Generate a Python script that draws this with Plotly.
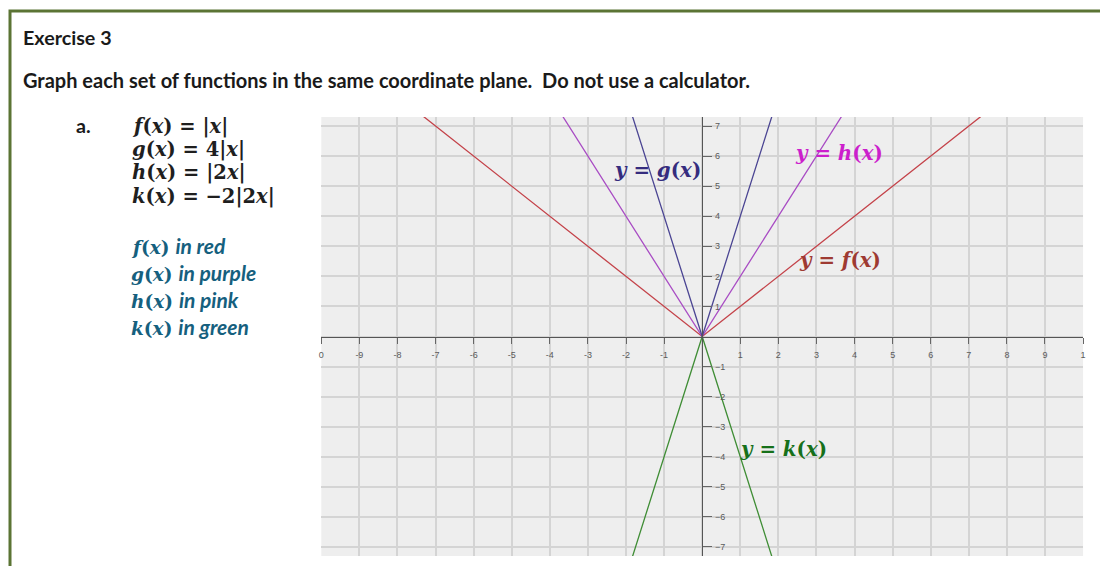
import plotly.graph_objects as go

# each function is a V with its vertex at the origin
f_x = [-10, 0, 10]
f_y = [10, 0, 10]
g_x = [-2, 0, 2]
g_y = [8, 0, 8]
h_x = [-4, 0, 4]
h_y = [8, 0, 8]
k_x = [-2, 0, 2]
k_y = [-8, 0, -8]

x_tickvals = [-10, -9, -8, -7, -6, -5, -4, -3, -2, -1, 1, 2, 3, 4, 5, 6, 7, 8, 9, 10]
x_ticktext = ["0", "-9", "-8", "-7", "-6", "-5", "-4", "-3", "-2", "-1",
              "1", "2", "3", "4", "5", "6", "7", "8", "9", "1"]
y_tickvals = [-7, -6, -5, -4, -3, -2, -1, 1, 2, 3, 4, 5, 6, 7]

functions = ["<b><i>f</i>(<i>x</i>) = |<i>x</i>|</b>",
             "<b><i>g</i>(<i>x</i>) = 4|<i>x</i>|</b>",
             "<b><i>h</i>(<i>x</i>) = |2<i>x</i>|</b>",
             "<b><i>k</i>(<i>x</i>) = \u22122|2<i>x</i>|</b>"]
colour_notes = [("f", "in red"), ("g", "in purple"), ("h", "in pink"), ("k", "in green")]

# page is drawn inside the browser body margin
W, H, OFF = 1092, 558, 8


def px(sx):
    return (sx - OFF) / W


def py(sy):
    return 1 - (sy - OFF) / H


XR = [-10, 10]
YR = [-7.3, 7.3]
xdom = [px(320), px(1086)]
ydom = [py(556), py(117)]

fig = go.Figure()
fig.add_trace(go.Scatter(x=f_x, y=f_y, mode="lines", line=dict(color="#c4434a", width=1.3)))
fig.add_trace(go.Scatter(x=h_x, y=h_y, mode="lines", line=dict(color="#a94dc4", width=1.3)))
fig.add_trace(go.Scatter(x=g_x, y=g_y, mode="lines", line=dict(color="#4b4593", width=1.3)))
fig.add_trace(go.Scatter(x=k_x, y=k_y, mode="lines", line=dict(color="#3f8d35", width=1.3)))
# carrier for the axes that cross at the origin
fig.add_trace(go.Scatter(x=[0], y=[0], mode="markers", marker=dict(opacity=0),
                         xaxis="x2", yaxis="y2", hoverinfo="skip"))

serif = "DejaVu Serif"
labels = [
    (-2.36, 5.55, "<b><i>y</i> = <i>g</i>(<i>x</i>)</b>", "#352c7e"),
    (2.38, 6.1, "<b><i>y</i> = <i>h</i>(<i>x</i>)</b>", "#cc1fcc"),
    (2.5, 2.55, "<b><i>y</i> = <i>f</i>(<i>x</i>)</b>", "#9e3a32"),
    (0.93, -3.75, "<b><i>y</i> = <i>k</i>(<i>x</i>)</b>", "#16701a"),
]
for lx, ly, txt, col in labels:
    fig.add_annotation(x=lx, y=ly, xref="x", yref="y", text=txt, showarrow=False,
                       xanchor="left", yanchor="middle",
                       font=dict(family=serif, size=19.8, color=col))

sans = "Lato"
fig.add_annotation(x=px(18), y=py(38), xref="paper", yref="paper", text="<b>Exercise 3</b>",
                   showarrow=False, xanchor="left", yanchor="middle",
                   font=dict(family=sans, size=19.7, color="#1a1a1a"))
fig.add_annotation(x=px(18), y=py(80), xref="paper", yref="paper",
                   text="<b>Graph each set of functions in the same coordinate plane.  Do not use a calculator.</b>",
                   showarrow=False, xanchor="left", yanchor="middle",
                   font=dict(family=sans, size=20, color="#1a1a1a"))
fig.add_annotation(x=px(71), y=py(125), xref="paper", yref="paper", text="<b>a.</b>",
                   showarrow=False, xanchor="left", yanchor="middle",
                   font=dict(family=sans, size=19.7, color="#1a1a1a"))

for i, txt in enumerate(functions):
    fig.add_annotation(x=px(128), y=py(126 + 23.5 * i), xref="paper", yref="paper", text=txt,
                       showarrow=False, xanchor="left", yanchor="middle",
                       font=dict(family=serif, size=19.5, color="#1f1f1f"))

for i, (fn, note) in enumerate(colour_notes):
    txt = ("<b><i>%s</i>(<i>x</i>)</b> <span style='font-family:Lato;font-size:21px'><b><i>%s</i></b></span>"
           % (fn, note))
    fig.add_annotation(x=px(127), y=py(245 + 27.3 * i), xref="paper", yref="paper", text=txt,
                       showarrow=False, xanchor="left", yanchor="middle",
                       font=dict(family=serif, size=18.5, color="#15607e"))

# worksheet frame
fig.add_shape(type="rect", xref="paper", yref="paper",
              x0=px(7), x1=px(1200), y0=py(700), y1=py(11),
              line=dict(color="#5b7434", width=3), layer="below")

grid = dict(showgrid=True, gridcolor="#d4d4d4", gridwidth=1.5, dtick=1, tick0=0,
            zeroline=False, showline=False, showticklabels=False, ticks="", fixedrange=True)
axis_font = dict(family="Liberation Sans", size=9, color="#5a5a5a")

fig.update_layout(
    width=W, height=H, autosize=False,
    margin=dict(l=0, r=0, t=0, b=0),
    paper_bgcolor="white", plot_bgcolor="#eeeeee",
    showlegend=False,
    xaxis=dict(range=XR, domain=xdom, anchor="y", **grid),
    yaxis=dict(range=YR, domain=ydom, anchor="x", **grid),
    xaxis2=dict(range=XR, overlaying="x", anchor="free",
                position=(ydom[0] + ydom[1]) / 2, side="bottom",
                showgrid=False, zeroline=False, showline=True, linecolor="#555555", linewidth=1,
                ticks="outside", ticklen=6, tickcolor="#666666", tickwidth=1,
                tickvals=x_tickvals, ticktext=x_ticktext, tickfont=axis_font,
                ticklabelstandoff=4, fixedrange=True),
    yaxis2=dict(range=YR, overlaying="y", anchor="free",
                position=(xdom[0] + xdom[1]) / 2, side="right",
                showgrid=False, zeroline=False, showline=True, linecolor="#555555", linewidth=1,
                ticks="outside", ticklen=9, tickcolor="#666666", tickwidth=1,
                tickvals=y_tickvals, tickfont=axis_font, ticklabelstandoff=1,
                fixedrange=True),
)

fig.write_html("out.html")
